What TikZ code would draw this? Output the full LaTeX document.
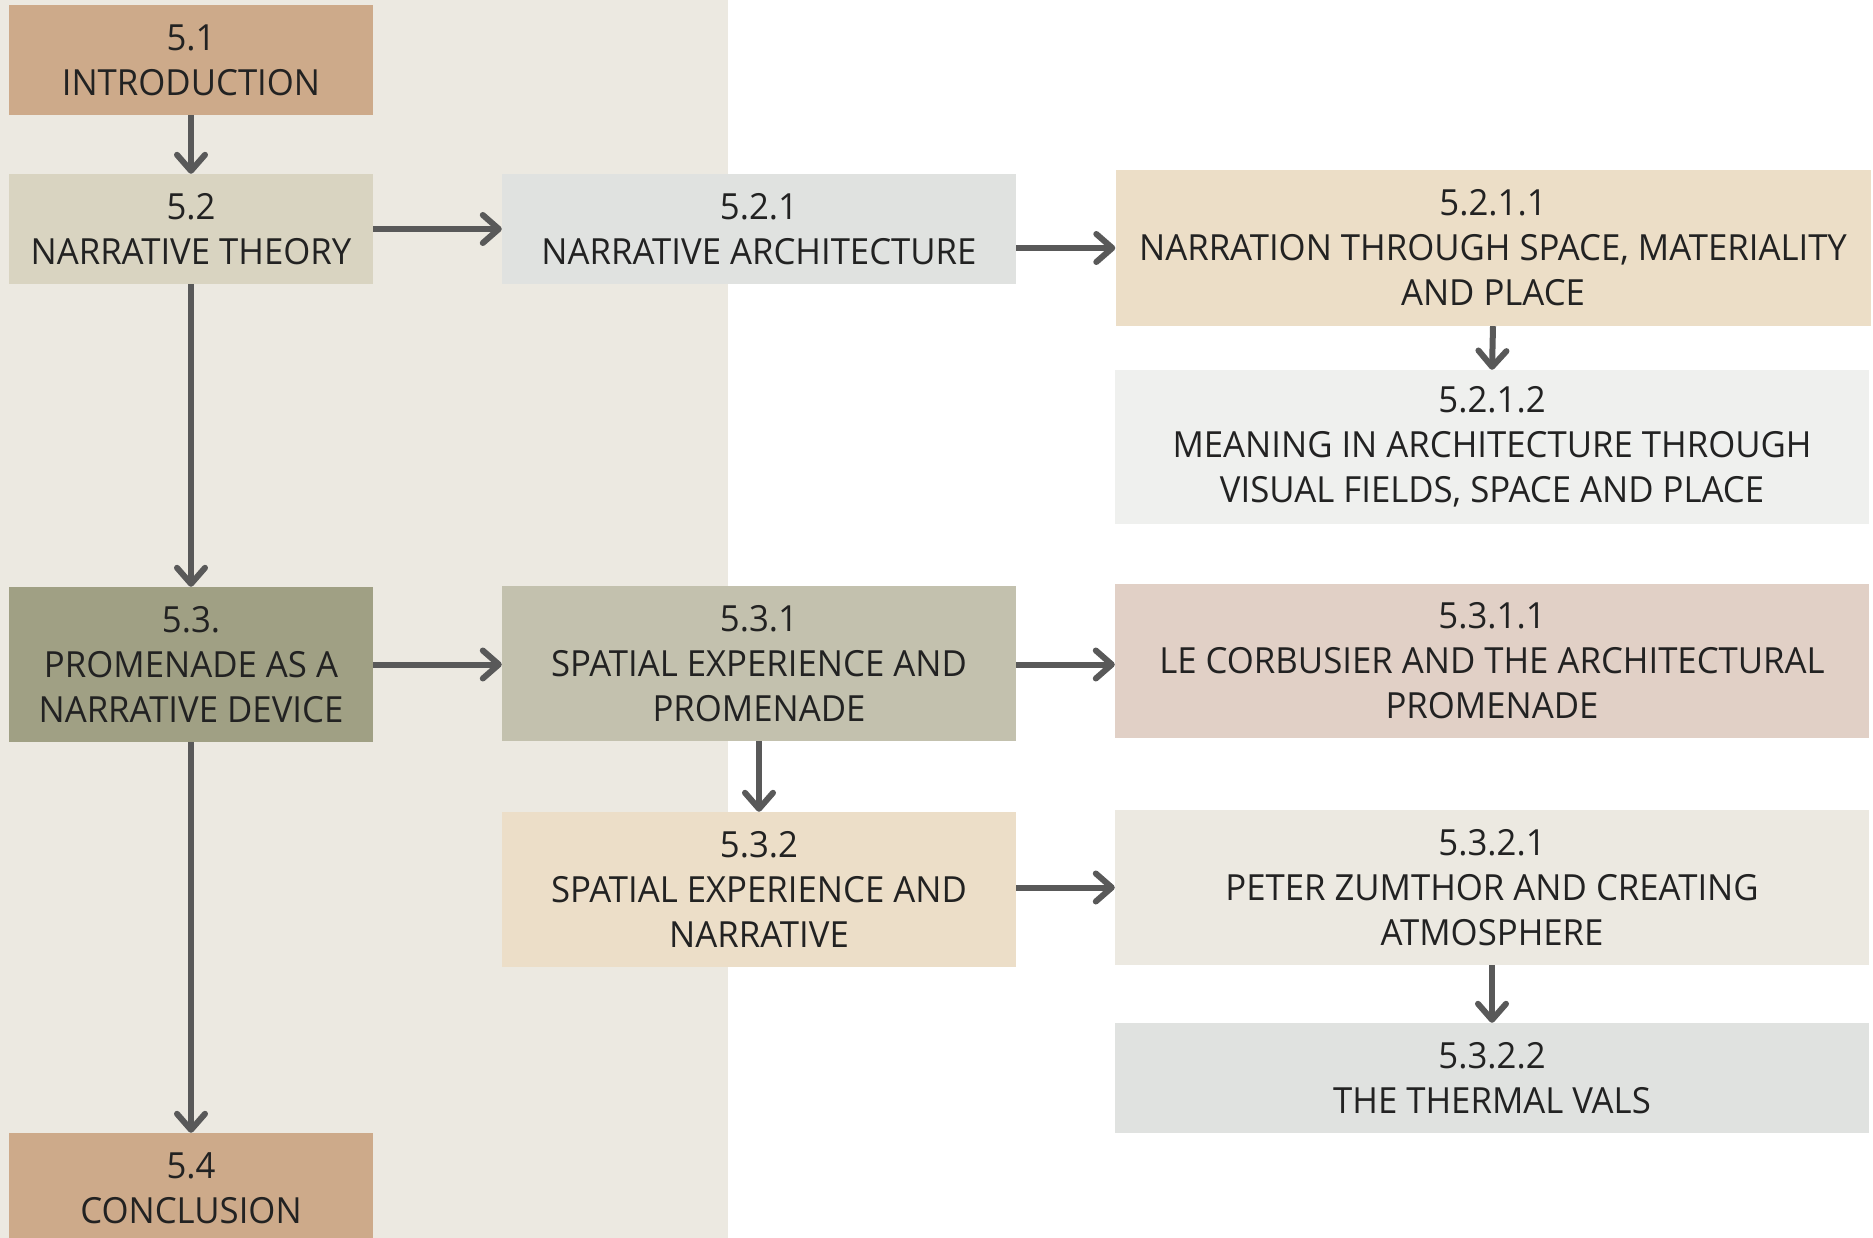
\documentclass[tikz,border=0pt]{standalone}
\usepackage{fontspec}
\setmainfont{Open Sans}[FakeStretch=0.965]
\usetikzlibrary{arrows.meta}
\definecolor{bandcol}{HTML}{ECE9E1}
\definecolor{tancol}{HTML}{CDAA8A}
\definecolor{c52}{HTML}{D9D4C1}
\definecolor{c521}{HTML}{E0E2E0}
\definecolor{c5211}{HTML}{ECDEC7}
\definecolor{c5212}{HTML}{EFF0EE}
\definecolor{c53}{HTML}{A0A084}
\definecolor{c531}{HTML}{C3C1AE}
\definecolor{c5311}{HTML}{E1D0C6}
\definecolor{c532}{HTML}{ECDEC8}
\definecolor{c5321}{HTML}{ECE9E1}
\definecolor{c5322}{HTML}{E0E2E0}
\definecolor{arrowcol}{HTML}{595959}
\definecolor{textcol}{HTML}{222222}
\begin{document}
\begin{tikzpicture}[x=1pt,y=-1pt,
  box/.style={rectangle, inner sep=0pt, align=center, text=textcol,
    font=\fontsize{36}{45}\selectfont},
  conn/.style={draw=arrowcol, line width=6pt,
    -{Straight Barb[length=16pt,width=28pt,round]}}]
\fill[white] (0,0) rectangle (1873,1238);
\useasboundingbox (0,0) rectangle (1873,1238);
\fill[bandcol] (0,0) rectangle (728,1238);
\begin{scope}
\clip (0,0) rectangle (1873,1238);
\node[box, fill=tancol, minimum width=364pt, minimum height=110pt] (n51) at (191,60) {5.1\\INTRODUCTION};
\node[box, fill=c52, minimum width=364pt, minimum height=110pt] (n52) at (191,229) {5.2\\NARRATIVE THEORY};
\node[box, fill=c53, minimum width=364pt, minimum height=155pt] (n53) at (191,664.5) {5.3.\\PROMENADE AS A\\NARRATIVE DEVICE};
\node[box, fill=tancol, minimum width=364pt, minimum height=110pt] (n54) at (191,1188) {5.4\\CONCLUSION};
\node[box, fill=c521, minimum width=514pt, minimum height=110pt] (n521) at (759,229) {5.2.1\\NARRATIVE ARCHITECTURE};
\node[box, fill=c531, minimum width=514pt, minimum height=155pt] (n531) at (759,663.5) {5.3.1\\SPATIAL EXPERIENCE AND\\PROMENADE};
\node[box, fill=c532, minimum width=514pt, minimum height=155pt] (n532) at (759,889.5) {5.3.2\\SPATIAL EXPERIENCE AND\\NARRATIVE};
\node[box, fill=c5211, minimum width=755pt, minimum height=156pt] (n5211) at (1493,248) {5.2.1.1\\NARRATION THROUGH SPACE, MATERIALITY\\AND PLACE};
\node[box, fill=c5212, minimum width=754pt, minimum height=154pt] (n5212) at (1492,447) {5.2.1.2\\MEANING IN ARCHITECTURE THROUGH\\VISUAL FIELDS, SPACE AND PLACE};
\node[box, fill=c5311, minimum width=754pt, minimum height=154pt] (n5311) at (1492,661) {5.3.1.1\\LE CORBUSIER AND THE ARCHITECTURAL\\PROMENADE};
\node[box, fill=c5321, minimum width=754pt, minimum height=155pt] (n5321) at (1492,887.5) {5.3.2.1\\PETER ZUMTHOR AND CREATING\\ATMOSPHERE};
\node[box, fill=c5322, minimum width=754pt, minimum height=110pt] (n5322) at (1492,1078) {5.3.2.2\\THE THERMAL VALS};
\end{scope}
\draw[conn] (n51.south) -- (n52.north);
\draw[conn] (n52.south) -- (n53.north);
\draw[conn] (n53.south) -- (n54.north);
\draw[conn] (n52.east) -- (n521.west);
\draw[conn] (n521.east |- n5211.west) -- (n5211.west);
\draw[conn] (n5211.south) -- (n5212.north);
\draw[conn] (n53.east) -- (n531.west |- n53.east);
\draw[conn] (n531.east |- n53.east) -- (n5311.west |- n53.east);
\draw[conn] (n531.south) -- (n532.north);
\draw[conn] (n532.east |- n5321.west) -- (n5321.west);
\draw[conn] (n5321.south) -- (n5322.north);
\end{tikzpicture}
\end{document}
